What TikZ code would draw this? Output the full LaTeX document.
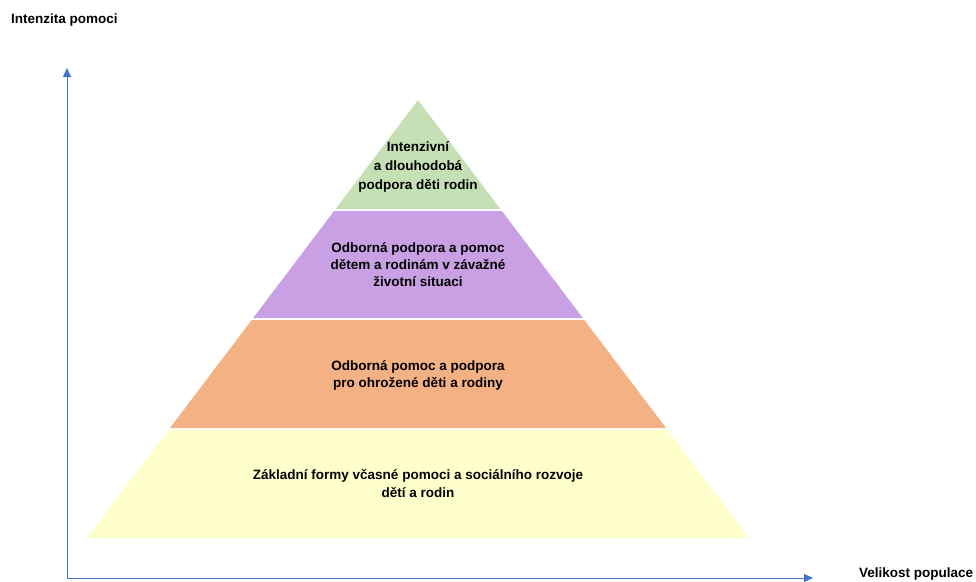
\documentclass[tikz,border=0pt]{standalone}
\usepackage{fontspec}
\setmainfont{Liberation Sans}
\usetikzlibrary{arrows.meta}
\definecolor{axisblue}{HTML}{4472C4}
\definecolor{lgreen}{HTML}{C5E0B4}
\definecolor{lpurple}{HTML}{C9A0E4}
\definecolor{lorange}{HTML}{F4B183}
\definecolor{lyellow}{HTML}{FFFFCC}
\tikzset{
  lbl/.style={align=center, font=\bfseries\fontsize{13.5}{17}\selectfont, text=black, inner sep=0pt},
  axis/.style={draw=axisblue, line width=0.9pt, -{Triangle[length=9pt,width=8pt]}},
  axlbl/.style={font=\bfseries\fontsize{13.5}{15}\selectfont, inner sep=0pt, anchor=west}
}
\begin{document}
\begin{tikzpicture}[x=1pt,y=-1pt]
\useasboundingbox (0,0) rectangle (976,581);
% layers
\fill[lgreen]  (418,100) -- (500.4,209) -- (335.6,209) -- cycle;
\fill[lpurple] (334.1,211) -- (501.9,211) -- (582.8,318) -- (253.2,318) -- cycle;
\fill[lorange] (251.7,320) -- (584.3,320) -- (666,428) -- (170,428) -- cycle;
\fill[lyellow] (168.5,430) -- (667.5,430) -- (749,538) -- (87,538) -- cycle;
% labels
\node[lbl, font=\bfseries\fontsize{13.5}{19}\selectfont] (t1) at (418,167) {Intenzivní\\a dlouhodobá\\podpora děti rodin};
\node[lbl] (t2) at (418,265) {Odborná podpora a pomoc\\dětem a rodinám v závažné\\životní situaci};
\node[lbl, font=\bfseries\fontsize{13.5}{17}\selectfont] (t3) at (418,375) {Odborná pomoc a podpora\\pro ohrožené děti a rodiny};
\node[lbl, font=\bfseries\fontsize{13.5}{18}\selectfont] (t4) at (418,484) {Základní formy včasné pomoci a sociálního rozvoje\\dětí a rodin};
% axes
\coordinate (origin) at (67,578);
\coordinate (ytip) at (67,68);
\coordinate (xtip) at (813,578);
\draw[axis] (origin) -- (ytip);
\draw[axis] (origin) -- (xtip);
\node[axlbl] (ylab) at (11,20) {Intenzita pomoci};
\node[axlbl] (xlab) at (859,573.5) {Velikost populace};
\end{tikzpicture}
\end{document}
